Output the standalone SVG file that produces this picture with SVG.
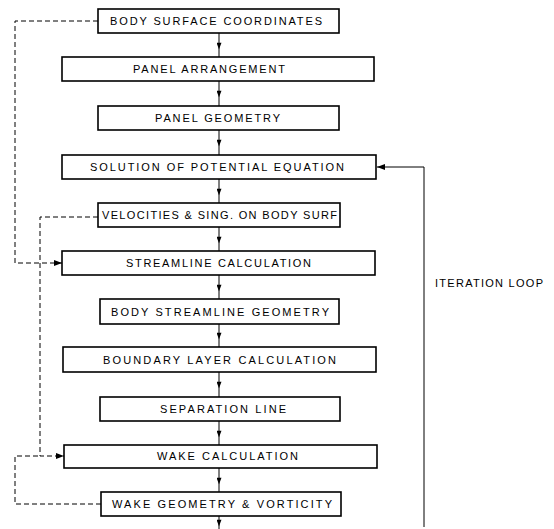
<svg xmlns="http://www.w3.org/2000/svg" width="554" height="529" viewBox="0 0 554 529">
<style>
.box{fill:#fff;stroke:#000;stroke-width:1.6}
.t{font-family:"Liberation Sans",Arial,sans-serif;font-size:11px;fill:#000}
.flow{fill:none;stroke:#000;stroke-width:1}
.dash{fill:none;stroke:#000;stroke-width:1;stroke-dasharray:5,3}
</style>
<defs>
<marker id="ah" viewBox="0 0 8 6" refX="8" refY="3" markerWidth="8" markerHeight="6" markerUnits="userSpaceOnUse" orient="auto">
<path d="M0,0 L8,3 L0,6 z" fill="#000"/>
</marker>
<marker id="am" viewBox="0 0 8 6" refX="4" refY="3" markerWidth="8" markerHeight="5" markerUnits="userSpaceOnUse" orient="auto">
<path d="M0,0 L8,3 L0,6 z" fill="#000"/>
</marker>
</defs>
<rect width="554" height="529" fill="#fff"/>
<g id="connectors">
<path class="flow" d="M219,33 L219,46 L219,57" marker-mid="url(#am)"/>
<path class="flow" d="M219,81 L219,94 L219,106" marker-mid="url(#am)"/>
<path class="flow" d="M219,130 L219,143 L219,155" marker-mid="url(#am)"/>
<path class="flow" d="M219,179 L219,192 L219,203" marker-mid="url(#am)"/>
<path class="flow" d="M219,227 L219,240 L219,251" marker-mid="url(#am)"/>
<path class="flow" d="M219,275 L219,288 L219,299" marker-mid="url(#am)"/>
<path class="flow" d="M219,324 L219,336 L219,347" marker-mid="url(#am)"/>
<path class="flow" d="M219,372 L219,385 L219,397" marker-mid="url(#am)"/>
<path class="flow" d="M219,421 L219,434 L219,445" marker-mid="url(#am)"/>
<path class="flow" d="M219,468 L219,481 L219,492" marker-mid="url(#am)"/>
<path class="flow" d="M219,516 L219,523 L219,529" marker-mid="url(#am)"/>
<path class="dash" d="M98,21 H15 V263 H62" marker-end="url(#ah)"/>
<path class="dash" d="M98,217 H40 V456 H64" marker-end="url(#ah)"/>
<path class="dash" d="M101,504 H15 V456 H40"/>
<path class="flow" d="M424,527 V167 H377" marker-end="url(#ah)"/>
</g>
<g id="n1"><rect class="box" x="98" y="9" width="241" height="24"/><text class="t" x="110" y="25" textLength="212" lengthAdjust="spacing">BODY SURFACE COORDINATES</text></g>
<g id="n2"><rect class="box" x="62" y="57" width="312" height="24"/><text class="t" x="133" y="73" textLength="152" lengthAdjust="spacing">PANEL ARRANGEMENT</text></g>
<g id="n3"><rect class="box" x="98" y="106" width="241" height="24"/><text class="t" x="155" y="122" textLength="125" lengthAdjust="spacing">PANEL GEOMETRY</text></g>
<g id="n4"><rect class="box" x="62" y="155" width="314" height="24"/><text class="t" x="90" y="171" textLength="254" lengthAdjust="spacing">SOLUTION OF POTENTIAL EQUATION</text></g>
<g id="n5"><rect class="box" x="98" y="203" width="242" height="24"/><text class="t" x="102" y="219" textLength="235" lengthAdjust="spacing">VELOCITIES &amp; SING. ON BODY SURF</text></g>
<g id="n6"><rect class="box" x="62" y="251" width="313" height="24"/><text class="t" x="126" y="267" textLength="185" lengthAdjust="spacing">STREAMLINE CALCULATION</text></g>
<g id="n7"><rect class="box" x="100" y="299" width="239" height="25"/><text class="t" x="111" y="316" textLength="218" lengthAdjust="spacing">BODY STREAMLINE GEOMETRY</text></g>
<g id="n8"><rect class="box" x="63" y="347" width="313" height="25"/><text class="t" x="103" y="364" textLength="233" lengthAdjust="spacing">BOUNDARY LAYER CALCULATION</text></g>
<g id="n9"><rect class="box" x="100" y="397" width="240" height="24"/><text class="t" x="160" y="413" textLength="126" lengthAdjust="spacing">SEPARATION LINE</text></g>
<g id="n10"><rect class="box" x="64" y="445" width="313" height="23"/><text class="t" x="157" y="460" textLength="141" lengthAdjust="spacing">WAKE CALCULATION</text></g>
<g id="n11"><rect class="box" x="101" y="492" width="240" height="24"/><text class="t" x="112" y="508" textLength="220" lengthAdjust="spacing">WAKE GEOMETRY &amp; VORTICITY</text></g>
<g id="label"><text class="t" x="435" y="287" textLength="108" lengthAdjust="spacing">ITERATION LOOP</text></g>
</svg>
